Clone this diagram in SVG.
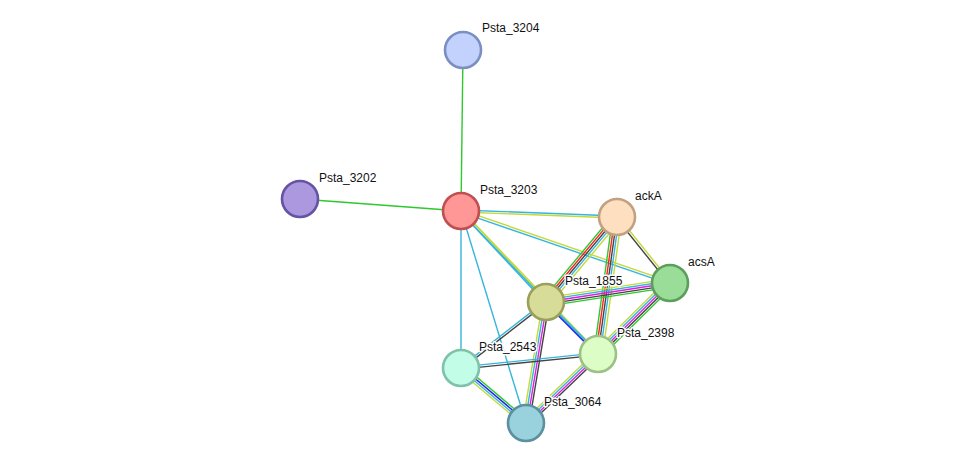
<svg xmlns="http://www.w3.org/2000/svg" width="975" height="469" viewBox="0 0 975 469">
<style>
line{stroke-width:1.4;fill:none}
.g{stroke:#2fc82f}.r{stroke:#ff1f1f}.k{stroke:#444444}.c{stroke:#35b5dd}.y{stroke:#c3d93c}.m{stroke:#e01fe0}.b{stroke:#2020ee}
circle{stroke-width:2.6}
text{font-family:"Liberation Sans",Arial,sans-serif;font-size:12px;fill:#111;stroke:#fff;stroke-width:3;stroke-linejoin:round;paint-order:stroke}
</style>
<rect width="975" height="469" fill="#fff"/>
<g id="edges">
  <line class="g" x1="463" y1="50" x2="461" y2="211"/>
  <line class="g" x1="300" y1="199" x2="461" y2="211"/>
  <line class="c" x1="461" y1="211" x2="461" y2="368"/>
  <line class="c" x1="461" y1="211" x2="526" y2="423"/>
  <g transform="translate(461,211) rotate(2.2)">
    <line class="c" x1="0" y1="-1" x2="156.1" y2="-1"/>
    <line class="y" x1="0" y1="1" x2="156.1" y2="1"/>
  </g>
  <g transform="translate(461,211) rotate(19.01)">
    <line class="y" x1="0" y1="-1.2" x2="221" y2="-1.2"/>
    <line class="c" x1="0" y1="1.2" x2="221" y2="1.2"/>
  </g>
  <g transform="translate(461,211) rotate(46.95)">
    <line class="y" x1="0" y1="-1" x2="124.5" y2="-1"/>
    <line class="c" x1="0" y1="1" x2="124.5" y2="1"/>
  </g>
  <g transform="translate(461,211) rotate(46.2)">
    <line class="y" x1="0" y1="-1" x2="198" y2="-1"/>
    <line class="c" x1="0" y1="1" x2="198" y2="1"/>
  </g>
  <g transform="translate(617,217) rotate(129.87)">
    <line class="g" x1="0" y1="4.2" x2="110.8" y2="4.2"/>
    <line class="r" x1="0" y1="2.1" x2="110.8" y2="2.1"/>
    <line class="k" x1="0" y1="0" x2="110.8" y2="0"/>
    <line class="c" x1="0" y1="-2.1" x2="110.8" y2="-2.1"/>
    <line class="y" x1="0" y1="-4.6" x2="110.8" y2="-4.6"/>
  </g>
  <g transform="translate(617,217) rotate(97.9)">
    <line class="g" x1="0" y1="4.2" x2="138.3" y2="4.2"/>
    <line class="r" x1="0" y1="2.1" x2="138.3" y2="2.1"/>
    <line class="k" x1="0" y1="0" x2="138.3" y2="0"/>
    <line class="c" x1="0" y1="-2.1" x2="138.3" y2="-2.1"/>
    <line class="y" x1="0" y1="-4.6" x2="138.3" y2="-4.6"/>
  </g>
  <g transform="translate(617,217) rotate(51.24)">
    <line class="y" x1="0" y1="-1.2" x2="84.6" y2="-1.2"/>
    <line class="k" x1="0" y1="1.2" x2="84.6" y2="1.2"/>
  </g>
  <g transform="translate(546,302) rotate(-8.71)">
    <line class="y" x1="0" y1="-4.2" x2="125.4" y2="-4.2"/>
    <line class="c" x1="0" y1="-2.1" x2="125.4" y2="-2.1"/>
    <line class="m" x1="0" y1="0" x2="125.4" y2="0"/>
    <line class="k" x1="0" y1="2.1" x2="125.4" y2="2.1"/>
    <line class="g" x1="0" y1="4.2" x2="125.4" y2="4.2"/>
  </g>
  <g transform="translate(598,354) rotate(-44.6)">
    <line class="y" x1="0" y1="-4.2" x2="101.1" y2="-4.2"/>
    <line class="c" x1="0" y1="-2.1" x2="101.1" y2="-2.1"/>
    <line class="m" x1="0" y1="0" x2="101.1" y2="0"/>
    <line class="k" x1="0" y1="2.1" x2="101.1" y2="2.1"/>
    <line class="g" x1="0" y1="4.2" x2="101.1" y2="4.2"/>
  </g>
  <g transform="translate(546,302) rotate(45)">
    <line class="c" x1="0" y1="-1" x2="73.5" y2="-1"/>
    <line class="b" x1="0" y1="1" x2="73.5" y2="1"/>
  </g>
  <g transform="translate(461,368) rotate(-37.83)">
    <line class="c" x1="0" y1="-1.1" x2="107.6" y2="-1.1"/>
    <line class="k" x1="0" y1="1.1" x2="107.6" y2="1.1"/>
  </g>
  <g transform="translate(546,302) rotate(99.39)">
    <line class="y" x1="0" y1="3.2" x2="122.6" y2="3.2"/>
    <line class="c" x1="0" y1="1.1" x2="122.6" y2="1.1"/>
    <line class="m" x1="0" y1="-1.1" x2="122.6" y2="-1.1"/>
    <line class="k" x1="0" y1="-3.2" x2="122.6" y2="-3.2"/>
  </g>
  <g transform="translate(461,368) rotate(-5.83)">
    <line class="c" x1="0" y1="-1.1" x2="137.7" y2="-1.1"/>
    <line class="k" x1="0" y1="1.1" x2="137.7" y2="1.1"/>
  </g>
  <g transform="translate(461,368) rotate(40.24)">
    <line class="g" x1="0" y1="-3.2" x2="85.1" y2="-3.2"/>
    <line class="b" x1="0" y1="-1.1" x2="85.1" y2="-1.1"/>
    <line class="c" x1="0" y1="1.1" x2="85.1" y2="1.1"/>
    <line class="y" x1="0" y1="3.2" x2="85.1" y2="3.2"/>
  </g>
  <g transform="translate(598,354) rotate(136.22)">
    <line class="y" x1="0" y1="3.2" x2="99.7" y2="3.2"/>
    <line class="c" x1="0" y1="1.1" x2="99.7" y2="1.1"/>
    <line class="m" x1="0" y1="-1.1" x2="99.7" y2="-1.1"/>
    <line class="k" x1="0" y1="-3.2" x2="99.7" y2="-3.2"/>
  </g>
</g>
<g id="node-Psta_3204"><circle cx="463" cy="50" r="18" fill="#c3d2fc" stroke="#7c8fc3"/><text x="482" y="32">Psta_3204</text></g>
<g id="node-Psta_3202"><circle cx="300" cy="199" r="18" fill="#ab98df" stroke="#6753a3"/><text x="319" y="182">Psta_3202</text></g>
<g id="node-Psta_3203"><circle cx="461" cy="211" r="18" fill="#ff9797" stroke="#c14f4f"/><text x="480" y="194">Psta_3203</text></g>
<g id="node-ackA"><circle cx="617" cy="217" r="18" fill="#fee0c1" stroke="#c1a182"/><text x="635" y="200">ackA</text></g>
<g id="node-acsA"><circle cx="670" cy="283" r="18" fill="#99dd99" stroke="#5c9f5c"/><text x="688" y="266">acsA</text></g>
<g id="node-Psta_1855"><circle cx="546" cy="302" r="18" fill="#d7dc99" stroke="#9a9f5a"/><text x="565" y="285">Psta_1855</text></g>
<g id="node-Psta_2398"><circle cx="598" cy="354" r="18" fill="#dcfdc5" stroke="#9cc086"/><text x="617" y="337">Psta_2398</text></g>
<g id="node-Psta_2543"><circle cx="461" cy="368" r="18" fill="#c1fde7" stroke="#80c1aa"/><text x="479" y="351">Psta_2543</text></g>
<g id="node-Psta_3064"><circle cx="526" cy="423" r="18" fill="#99d1dd" stroke="#5a909f"/><text x="544" y="406">Psta_3064</text></g>
</svg>
